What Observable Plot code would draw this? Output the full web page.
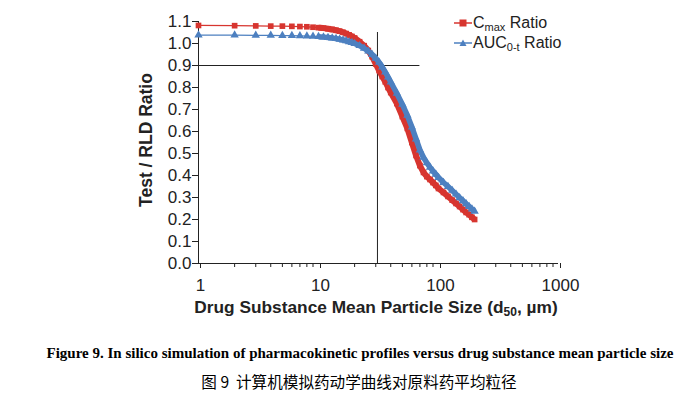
<!DOCTYPE html>
<html>
<head>
<meta charset="utf-8">
<script src="https://cdn.jsdelivr.net/npm/d3@7"></script>
<script src="https://cdn.jsdelivr.net/npm/@observablehq/plot@0.6"></script>
<style>
  body { margin: 0; background: #fff; }
  #wrap { position: relative; width: 680px; height: 395px; overflow: hidden; }
  .leg { position: absolute; left: 454px; font-family: "Liberation Sans", Arial, sans-serif; font-size: 16px; color: #222; white-space: nowrap; line-height: 18px; height: 18px; }
  .leg svg { vertical-align: middle; margin-right: 1px; position: relative; top: -1px; }
  .leg sub { font-size: 11px; vertical-align: -3px; line-height: 0; }
  .cap { position: absolute; white-space: nowrap; transform: translateX(-50%); left: 360px; color: #000; }
</style>
</head>
<body>
<div id="wrap">
  <div id="chart"></div>
  <div class="leg" style="top:14px">
    <svg width="18" height="10"><line x1="0" y1="5" x2="18" y2="5" stroke="#d7352f" stroke-width="1.5"/><rect x="5.5" y="1.5" width="7" height="7" fill="#d7352f"/></svg>C<sub>max</sub> Ratio
  </div>
  <div class="leg" style="top:34px">
    <svg width="18" height="10"><line x1="0" y1="5" x2="18" y2="5" stroke="#4d80c0" stroke-width="1.5"/><path d="M9,1.5 L12.5,8 L5.5,8 Z" fill="#4d80c0"/></svg>AUC<sub>0-t</sub> Ratio
  </div>
  <div class="cap" style="top:345px; font-family:'Liberation Serif','Times New Roman',serif; font-weight:bold; font-size:15px;">Figure 9. In silico simulation of pharmacokinetic profiles versus drug substance mean particle size</div>
  <div class="cap" style="top:370px; left:359px; font-family:'Noto Sans CJK SC',sans-serif; font-size:15.6px;">图 9&nbsp;&nbsp;计算机模拟药动学曲线对原料药平均粒径</div>
</div>
<script>
// Particle size (d50, µm)
const sizes = [1,2,3,4,5,6,7,8,9,10,11,12,13,14,15,16,17,18,19,20,
  22,24,26,28,30,32,34,36,38,40,
  45,50,55,60,65,70,75,80,85,90,95,100,
  110,120,130,140,150,160,170,180,190,200];
// Cmax ratio
const cmaxRatio = [1.082,1.081,1.080,1.079,1.079,1.078,1.077,1.076,1.074,1.072,
  1.070,1.067,1.064,1.060,1.056,1.051,1.045,1.039,1.032,1.025,
  1.008,0.990,0.968,0.940,0.907,0.877,0.850,0.826,0.800,0.777,
  0.727,0.668,0.614,0.550,0.491,0.445,0.414,0.395,0.382,0.368,0.355,0.341,
  0.323,0.305,0.288,0.273,0.259,0.245,0.232,0.222,0.210,0.200];
// AUC0-t ratio
const aucRatio = [1.038,1.038,1.037,1.037,1.036,1.036,1.035,1.034,1.033,1.031,
  1.029,1.027,1.025,1.022,1.019,1.016,1.012,1.008,1.004,1.000,
  0.990,0.978,0.965,0.950,0.933,0.914,0.893,0.870,0.847,0.825,
  0.773,0.723,0.673,0.620,0.566,0.516,0.482,0.457,0.437,0.420,0.405,0.391,
  0.368,0.350,0.332,0.315,0.299,0.285,0.271,0.259,0.247,0.237];
const yTicks = [0,0.1,0.2,0.3,0.4,0.5,0.6,0.7,0.8,0.9,1.0,1.1];
const xMajor = [1,10,100,1000];
const xMinor = [2,3,4,5,6,7,8,9,20,30,40,50,60,70,80,90,200,300,400,500,600,700,800,900];
const refSize = 31;      // vertical reference line
const refRatio = 0.9;    // horizontal reference line
const refRatioEnd = 70;
const refSizeTop = 1.05;
const denseFrom = 10;    // markers merge into a band from here on

const cmax = sizes.map((x, i) => ({x, y: cmaxRatio[i]}));
const auc = sizes.map((x, i) => ({x, y: aucRatio[i]}));
const red = "#d7352f", blue = "#4d80c0", ink = "#222";

const chart = Plot.plot({
  width: 680, height: 330,
  marginLeft: 198, marginRight: 122, marginTop: 21, marginBottom: 67,
  style: {fontFamily: "'Liberation Sans', Arial, sans-serif", fontSize: "17px", color: ink, background: "#fff"},
  x: {type: "log", domain: [1, 1000]},
  y: {domain: [0, 1.1]},
  marks: [
    Plot.axisY({ticks: yTicks, tickSize: 6, tickPadding: 1, tickFormat: d3.format(".1f"), label: null, stroke: ink}),
    Plot.axisX({ticks: xMajor, tickSize: 5, tickPadding: 10, tickFormat: d => String(d), label: null, stroke: ink, dx: 2}),
    Plot.axisX({ticks: xMinor, tickSize: 4, tickFormat: () => "", label: null, stroke: ink}),
    Plot.ruleY([0], {stroke: ink}),
    Plot.ruleX([1], {y1: 0, y2: 1.1, stroke: ink}),
    Plot.ruleX([refSize], {y1: 0, y2: refSizeTop, stroke: ink}),
    Plot.ruleY([refRatio], {x1: 1, x2: refRatioEnd, stroke: ink}),
    Plot.line(cmax, {x: "x", y: "y", stroke: red, strokeWidth: 1.2}),
    Plot.line(cmax.filter(d => d.x >= denseFrom), {x: "x", y: "y", stroke: red, strokeWidth: 6, strokeLinecap: "butt"}),
    Plot.dot(cmax, {x: "x", y: "y", symbol: "square", r: 3.2, fill: red, stroke: "none"}),
    Plot.line(auc, {x: "x", y: "y", stroke: blue, strokeWidth: 1.2}),
    Plot.line(auc.filter(d => d.x >= denseFrom), {x: "x", y: "y", stroke: blue, strokeWidth: 5.5, strokeLinecap: "butt"}),
    Plot.dot(auc, {x: "x", y: "y", symbol: "triangle", r: 3.1, fill: blue, stroke: "none"})
  ]
});
document.getElementById("chart").appendChild(chart);

const svg = d3.select(chart);
const xt = svg.append("text")
  .attr("x", 376).attr("y", 313)
  .attr("text-anchor", "middle")
  .attr("font-family", "'Liberation Sans', Arial, sans-serif")
  .attr("font-weight", "bold").attr("font-size", 17.3).attr("fill", ink);
xt.append("tspan").text("Drug Substance Mean Particle Size (d");
xt.append("tspan").attr("font-size", 12).attr("dy", 3).text("50");
xt.append("tspan").attr("dy", -3).text(", µm)");

svg.append("text")
  .attr("transform", "translate(152,140) rotate(-90)")
  .attr("text-anchor", "middle")
  .attr("font-family", "'Liberation Sans', Arial, sans-serif")
  .attr("font-weight", "bold").attr("font-size", 17.5).attr("fill", ink)
  .text("Test / RLD Ratio");
</script>
</body>
</html>
